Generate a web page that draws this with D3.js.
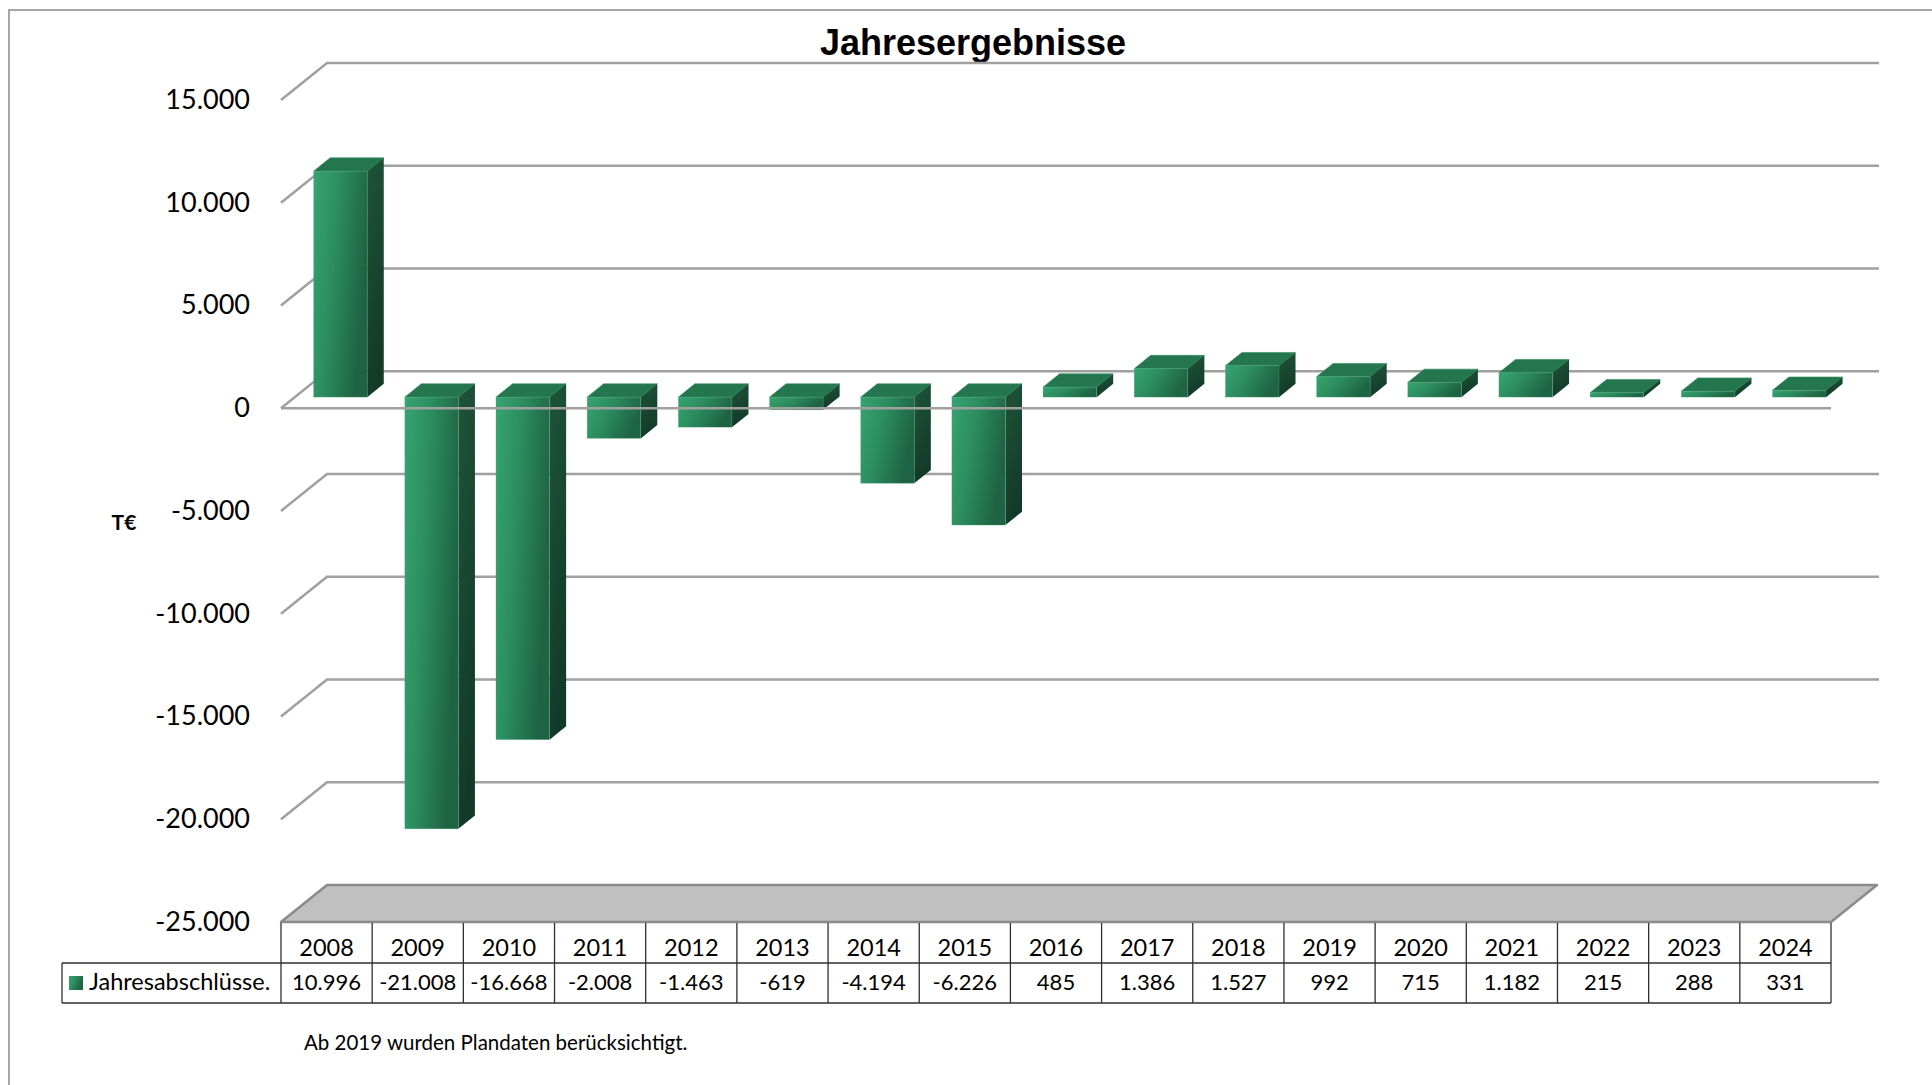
<!DOCTYPE html>
<html>
<head>
<meta charset="utf-8">
<script src="https://cdn.jsdelivr.net/npm/d3@7"></script>
<style>
  body { margin: 0; background: white; }
  text { font-family: Lato, 'Open Sans', sans-serif; fill: #000; }
</style>
</head>
<body>
<script>
const years = ['2008','2009','2010','2011','2012','2013','2014','2015','2016','2017','2018','2019','2020','2021','2022','2023','2024'];
const values = [10996, -21008, -16668, -2008, -1463, -619, -4194, -6226, 485, 1386, 1527, 992, 715, 1182, 215, 288, 331];
const yTicks = [-25000, -20000, -15000, -10000, -5000, 0, 5000, 10000, 15000];
const seriesName = 'Jahresabschlüsse.';
const chartTitle = 'Jahresergebnisse';
const unitLabel = 'T€';
const footNote = 'Ab 2019 wurden Plandaten berücksichtigt.';

const width = 1932, height = 1085;
const front = { left: 281, right: 1831, top: 100, bottom: 922 };
const depth = { dx: 46, dy: -37 };   // full depth of the 3d box
const barDepth = [0.3, 0.66];        // where the columns sit inside the depth

const de = d3.formatLocale({ decimal: ',', thousands: '.', grouping: [3], currency: ['', '€'], minus: '-' });
const fmt = de.format(',d');

var svg = d3.select('body').append('svg')
  .attr('width', width)
  .attr('height', height);

var defs = svg.append('defs');
var gFront = defs.append('linearGradient').attr('id', 'barFront')
  .attr('x1', 0).attr('y1', 0).attr('x2', 1).attr('y2', 0.35);
gFront.append('stop').attr('offset', 0).attr('stop-color', '#36a470');
gFront.append('stop').attr('offset', 0.45).attr('stop-color', '#2c8d5f');
gFront.append('stop').attr('offset', 1).attr('stop-color', '#1e6343');
var gSide = defs.append('linearGradient').attr('id', 'barSide')
  .attr('x1', 0).attr('y1', 0).attr('x2', 0.3).attr('y2', 1);
gSide.append('stop').attr('offset', 0).attr('stop-color', '#1f5539');
gSide.append('stop').attr('offset', 1).attr('stop-color', '#123a28');

// outer frame
svg.append('path')
  .attr('d', `M9,${height} L9,10 L${width},10`)
  .attr('fill', 'none')
  .attr('stroke', '#a6a6a6')
  .attr('stroke-width', 2);

svg.append('text')
  .attr('x', 973)
  .attr('y', 55)
  .attr('text-anchor', 'middle')
  .style('font-family', "'Liberation Sans', Arial, sans-serif")
  .style('font-weight', 700)
  .style('font-size', '36px')
  .text(chartTitle);

var y = d3.scaleLinear()
  .domain([-25000, 15000])
  .range([front.bottom, front.top]);

var x = d3.scaleBand()
  .domain(years)
  .range([front.left, front.right])
  .paddingInner(0)
  .paddingOuter(0);

// back wall gridlines + side diagonals
var grid = svg.append('g').attr('class', 'grid')
  .attr('stroke', '#a0a0a0')
  .attr('stroke-width', 2.5)
  .attr('fill', 'none');

grid.selectAll('path')
  .data(yTicks.filter(t => t > -25000))
  .enter().append('path')
  .attr('d', t => `M${front.left},${y(t)} L${front.left + depth.dx},${y(t) + depth.dy} L${front.right + depth.dx + 2},${y(t) + depth.dy}`);

// floor
var fb = y(-25000);
svg.append('path')
  .attr('d', `M${front.left},${fb} L${front.left + depth.dx},${fb + depth.dy} L${front.right + depth.dx},${fb + depth.dy} L${front.right},${fb} Z`)
  .attr('fill', '#c0c0c0')
  .attr('stroke', '#8a8a8a')
  .attr('stroke-width', 2.5)
  .attr('stroke-linejoin', 'round');

// y labels
svg.append('g')
  .selectAll('text')
  .data(yTicks)
  .enter().append('text')
  .attr('x', 250)
  .attr('y', t => y(t) + 2)
  .attr('text-anchor', 'end')
  .attr('dominant-baseline', 'middle')
  .style('font-size', '27px')
  .text(t => fmt(t));

svg.append('text')
  .attr('x', 124)
  .attr('y', 525)
  .attr('text-anchor', 'middle')
  .attr('dominant-baseline', 'middle')
  .style('font-size', '21px')
  .style('font-weight', 700)
  .text(unitLabel);

// columns
var bw = x.bandwidth() / 1.7;
var fx = barDepth[0] * depth.dx, fy = barDepth[0] * depth.dy;
var ddx = (barDepth[1] - barDepth[0]) * depth.dx, ddy = (barDepth[1] - barDepth[0]) * depth.dy;

var bars = svg.append('g').attr('class', 'bars')
  .selectAll('g')
  .data(years.map((yr, i) => ({ year: yr, value: values[i] })))
  .enter().append('g');

function geom(d) {
  var left = x(d.year) + (x.bandwidth() - bw) / 2 + fx;
  var top = Math.min(y(d.value), y(0)) + fy;
  var bottom = Math.max(y(d.value), y(0)) + fy;
  return { left: left, right: left + bw, top: top, bottom: bottom };
}

bars.append('path')
  .attr('fill', '#24764e')
  .attr('stroke', '#2f8a5d')
  .attr('stroke-width', 0.6)
  .attr('d', d => {
    var g = geom(d);
    return `M${g.left},${g.top} L${g.left + ddx},${g.top + ddy} L${g.right + ddx},${g.top + ddy} L${g.right},${g.top} Z`;
  });

bars.append('path')
  .attr('fill', 'url(#barSide)')
  .attr('d', d => {
    var g = geom(d);
    return `M${g.right},${g.top} L${g.right + ddx},${g.top + ddy} L${g.right + ddx},${g.bottom + ddy} L${g.right},${g.bottom} Z`;
  });

bars.append('rect')
  .attr('fill', 'url(#barFront)')
  .attr('stroke', 'rgba(120,200,160,0.35)')
  .attr('stroke-width', 0.6)
  .attr('x', d => geom(d).left)
  .attr('y', d => geom(d).top)
  .attr('width', bw)
  .attr('height', d => Math.max(1, geom(d).bottom - geom(d).top));

// front axis line at zero, in front of the columns
svg.append('path')
  .attr('d', `M${front.left},${y(0)} L${front.right},${y(0)}`)
  .attr('stroke', '#a0a0a0')
  .attr('stroke-width', 2.5);

// data table
var rowTop = fb, rowMid = 963, rowBot = 1003, legendLeft = 62;
var table = svg.append('g').attr('class', 'table')
  .attr('stroke', '#303030')
  .attr('stroke-width', 1.3)
  .attr('fill', 'none');

table.append('path')
  .attr('d', `M${legendLeft},${rowMid} L${front.right},${rowMid} M${legendLeft},${rowBot} L${front.right},${rowBot} M${legendLeft},${rowMid} L${legendLeft},${rowBot}`);

table.selectAll('line.col')
  .data(years.concat(['end']))
  .enter().append('line')
  .attr('class', 'col')
  .attr('x1', d => d === 'end' ? front.right : x(d))
  .attr('x2', d => d === 'end' ? front.right : x(d))
  .attr('y1', rowTop + 1)
  .attr('y2', rowBot);

svg.append('g')
  .selectAll('text')
  .data(years)
  .enter().append('text')
  .attr('x', d => x(d) + x.bandwidth() / 2)
  .attr('y', 950)
  .attr('text-anchor', 'middle')
  .attr('dominant-baseline', 'middle')
  .style('font-size', '23.5px')
  .text(d => d);

svg.append('g')
  .selectAll('text')
  .data(values)
  .enter().append('text')
  .attr('x', (d, i) => x(years[i]) + x.bandwidth() / 2)
  .attr('y', 984)
  .attr('text-anchor', 'middle')
  .attr('dominant-baseline', 'middle')
  .style('font-size', '22px')
  .text(d => fmt(d));

svg.append('rect')
  .attr('x', 69)
  .attr('y', 976)
  .attr('width', 14)
  .attr('height', 14)
  .attr('fill', 'url(#barFront)');

svg.append('text')
  .attr('x', 89)
  .attr('y', 984)
  .attr('dominant-baseline', 'middle')
  .style('font-size', '23.5px')
  .text(seriesName);

svg.append('text')
  .attr('x', 304)
  .attr('y', 1045)
  .attr('dominant-baseline', 'middle')
  .style('font-size', '20.5px')
  .text(footNote);
</script>
</body>
</html>
